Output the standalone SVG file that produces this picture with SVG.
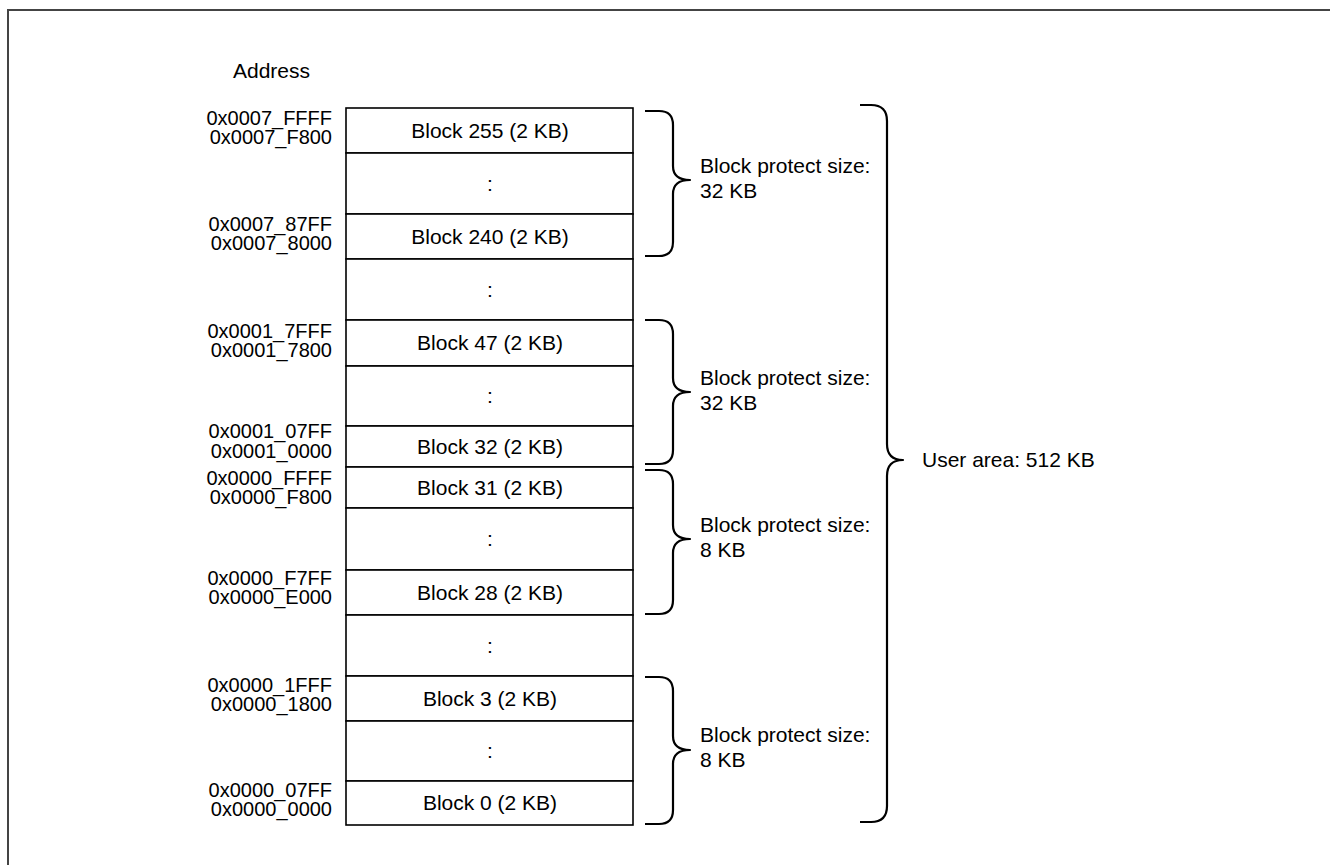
<svg xmlns="http://www.w3.org/2000/svg" width="1330" height="865" viewBox="0 0 1330 865">
<style>
text{font-family:"Liberation Sans",Arial,sans-serif;fill:#000}
.lbl{font-size:21px}
.addr{font-size:20px;text-anchor:end}
.blk{font-size:21px;text-anchor:middle}
.cell{fill:#fff;stroke:#000;stroke-width:1.6}
.brace{fill:none;stroke:#000;stroke-width:2.2;stroke-linejoin:round;stroke-linecap:butt}
</style>
<rect x="8" y="10" width="1340" height="870" fill="#fff" stroke="#444" stroke-width="2"/>
<text id="address-title" class="lbl" x="233" y="78">Address</text>

<g id="memory-map">
<g id="block255"><rect class="cell" x="346" y="108" width="287" height="45"/><text class="blk" x="490" y="138">Block 255 (2 KB)</text></g>
<g id="gap1"><rect class="cell" x="346" y="153" width="287" height="61"/><text class="blk" x="490" y="191">:</text></g>
<g id="block240"><rect class="cell" x="346" y="214" width="287" height="45"/><text class="blk" x="490" y="244">Block 240 (2 KB)</text></g>
<g id="gap2"><rect class="cell" x="346" y="259" width="287" height="61"/><text class="blk" x="490" y="297">:</text></g>
<g id="block47"><rect class="cell" x="346" y="320" width="287" height="46"/><text class="blk" x="490" y="350">Block 47 (2 KB)</text></g>
<g id="gap3"><rect class="cell" x="346" y="366" width="287" height="60"/><text class="blk" x="490" y="403">:</text></g>
<g id="block32"><rect class="cell" x="346" y="426" width="287" height="41"/><text class="blk" x="490" y="454">Block 32 (2 KB)</text></g>
<g id="block31"><rect class="cell" x="346" y="467" width="287" height="41"/><text class="blk" x="490" y="495">Block 31 (2 KB)</text></g>
<g id="gap4"><rect class="cell" x="346" y="508" width="287" height="62"/><text class="blk" x="490" y="546">:</text></g>
<g id="block28"><rect class="cell" x="346" y="570" width="287" height="45"/><text class="blk" x="490" y="600">Block 28 (2 KB)</text></g>
<g id="gap5"><rect class="cell" x="346" y="615" width="287" height="61"/><text class="blk" x="490" y="653">:</text></g>
<g id="block3"><rect class="cell" x="346" y="676" width="287" height="45"/><text class="blk" x="490" y="706">Block 3 (2 KB)</text></g>
<g id="gap6"><rect class="cell" x="346" y="721" width="287" height="60"/><text class="blk" x="490" y="758">:</text></g>
<g id="block0"><rect class="cell" x="346" y="781" width="287" height="44"/><text class="blk" x="490" y="810">Block 0 (2 KB)</text></g>
</g>

<g id="addresses">
<text class="addr" x="332" y="125">0x0007_FFFF</text>
<text class="addr" x="332" y="144">0x0007_F800</text>
<text class="addr" x="332" y="231">0x0007_87FF</text>
<text class="addr" x="332" y="250">0x0007_8000</text>
<text class="addr" x="332" y="338">0x0001_7FFF</text>
<text class="addr" x="332" y="357">0x0001_7800</text>
<text class="addr" x="332" y="438">0x0001_07FF</text>
<text class="addr" x="332" y="458">0x0001_0000</text>
<text class="addr" x="332" y="485">0x0000_FFFF</text>
<text class="addr" x="332" y="504">0x0000_F800</text>
<text class="addr" x="332" y="585">0x0000_F7FF</text>
<text class="addr" x="332" y="604">0x0000_E000</text>
<text class="addr" x="332" y="692">0x0000_1FFF</text>
<text class="addr" x="332" y="711">0x0000_1800</text>
<text class="addr" x="332" y="797">0x0000_07FF</text>
<text class="addr" x="332" y="816">0x0000_0000</text>
</g>

<g id="connectors">
<path class="brace" d="M645,111 H659 Q673,111 673,125 V166 Q673,180 690,180 Q673,180 673,194 V242 Q673,256 659,256 H645"/>
<path class="brace" d="M645,320 H659 Q673,320 673,334 V378 Q673,392 690,392 Q673,392 673,406 V450 Q673,464 659,464 H645"/>
<path class="brace" d="M645,470 H659 Q673,470 673,484 V525 Q673,539 690,539 Q673,539 673,553 V600 Q673,614 659,614 H645"/>
<path class="brace" d="M645,677 H659 Q673,677 673,691 V736 Q673,750 690,750 Q673,750 673,764 V810 Q673,824 659,824 H645"/>
<path class="brace" d="M860,105 H871 Q887,105 887,121 V444 Q887,460 903,460 Q887,460 887,476 V806 Q887,822 871,822 H860"/>
</g>

<g id="labels">
<g id="bp1"><text class="lbl" x="700" y="173">Block protect size:</text><text class="lbl" x="700" y="198">32 KB</text></g>
<g id="bp2"><text class="lbl" x="700" y="385">Block protect size:</text><text class="lbl" x="700" y="410">32 KB</text></g>
<g id="bp3"><text class="lbl" x="700" y="532">Block protect size:</text><text class="lbl" x="700" y="557">8 KB</text></g>
<g id="bp4"><text class="lbl" x="700" y="742">Block protect size:</text><text class="lbl" x="700" y="767">8 KB</text></g>
<g id="user-area"><text class="lbl" x="922" y="467">User area: 512 KB</text></g>
</g>
</svg>
